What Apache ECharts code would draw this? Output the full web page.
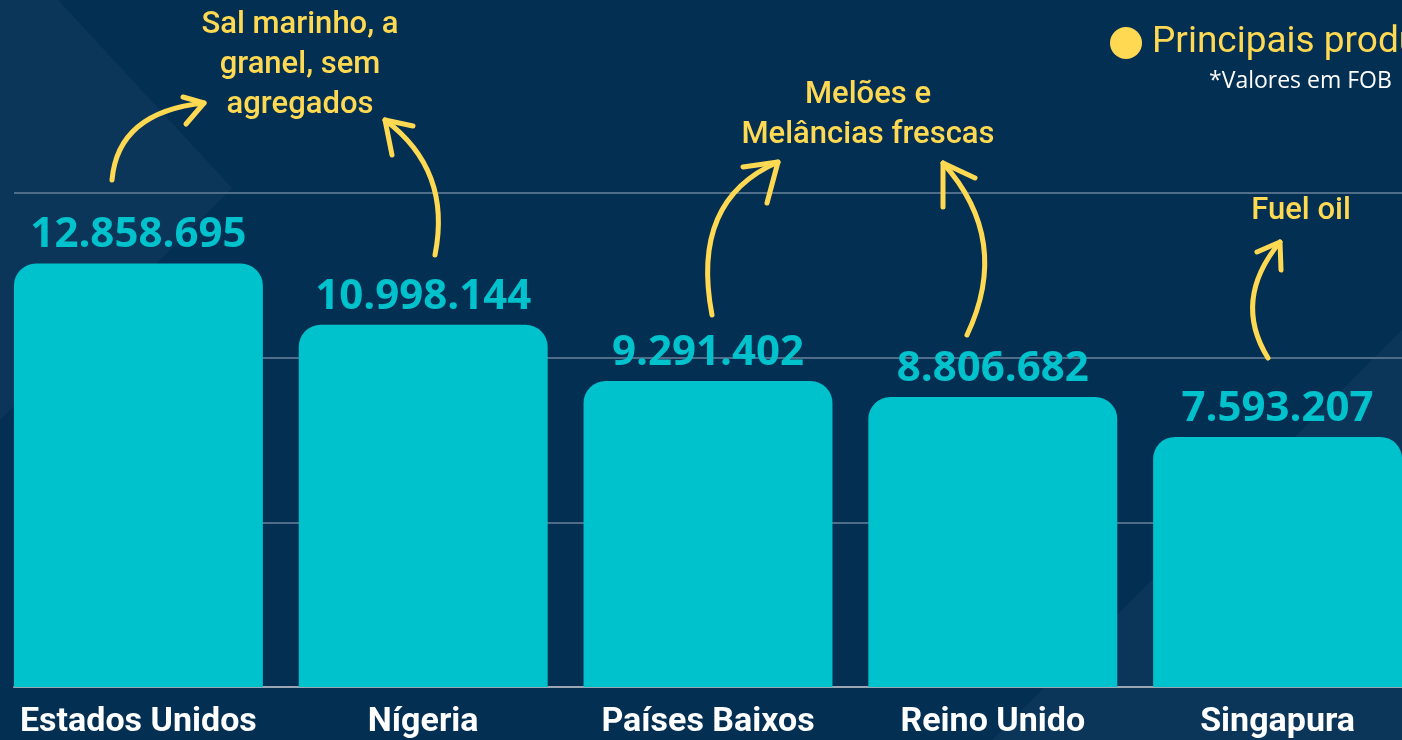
<!DOCTYPE html>
<html>
<head>
<meta charset="utf-8">
<script src="https://cdn.jsdelivr.net/npm/echarts@6/dist/echarts.min.js"></script>
<style>
  html, body { margin: 0; padding: 0; background: #032f53; }
  #chart { width: 1402px; height: 740px; }
</style>
</head>
<body>
<div id="chart"></div>
<script>
// dados
const paises = ['Estados Unidos', 'Nígeria', 'Países Baixos', 'Reino Unido', 'Singapura'];
const valoresFob = [12858695, 10998144, 9291402, 8806682, 7593207];
const produtos = ['Sal marinho, a\ngranel, sem\nagregados', 'Melões e\nMelâncias frescas', 'Fuel oil'];
const legendaTexto = 'Principais produtos';
const notaTexto = '*Valores em FOB';

const AMARELO = '#ffd952';
const TURQUESA = '#00c2cc';
const FONTE_COND = '"Roboto", sans-serif';

const chart = echarts.init(document.getElementById('chart'), null, { renderer: 'canvas' });

// formata 12858695 -> 12.858.695
function pontos(v) {
    return String(v).replace(/\B(?=(\d{3})+(?!\d))/g, '.');
}

// seta curva: curva bezier + ponta
function seta(x1, y1, cx, cy, x2, y2, b1, b2) {
    return [
        {
            type: 'bezierCurve', z: 10,
            shape: { x1: x1, y1: y1, cpx1: cx, cpy1: cy, x2: x2, y2: y2 },
            style: { stroke: AMARELO, lineWidth: 5, fill: null, lineCap: 'round' }
        },
        {
            type: 'polyline', z: 10,
            shape: { points: [b1, [x2, y2], b2] },
            style: { stroke: AMARELO, lineWidth: 5, fill: null, lineCap: 'round', lineJoin: 'round' }
        }
    ];
}

const textoAnot = (txt, x, y) => ({
    type: 'text', z: 10, x: x, y: y,
    style: {
        text: txt, fill: AMARELO, font: '500 31px ' + FONTE_COND,
        align: 'center', verticalAlign: 'top', lineHeight: 40
    }
});

const option = {
    backgroundColor: '#032f53',
    animation: false,
    grid: [
        // grade das barras um pouco mais larga que a tela
        { left: -4, width: 1424, top: 193, bottom: 53, outerBoundsMode: 'none' },
        // grade so para as linhas de fundo
        { left: 14, right: 0, top: 193, bottom: 53 }
    ],
    xAxis: [
        {
            type: 'category', gridIndex: 0, data: paises,
            axisLine: { show: false }, axisTick: { show: false },
            axisLabel: {
                interval: 0,
                color: '#ffffff', fontSize: 34, fontWeight: 'bold',
                fontFamily: FONTE_COND, margin: 18
            }
        },
        {
            type: 'category', gridIndex: 1, data: paises,
            axisLine: { lineStyle: { color: '#9aa6b4', width: 2 } },
            axisTick: { show: false }, axisLabel: { show: false }
        }
    ],
    yAxis: [
        {
            type: 'value', gridIndex: 0, min: 0, max: 15000000, interval: 5000000,
            axisLabel: { show: false }, splitLine: { show: false },
            axisLine: { show: false }, axisTick: { show: false }
        },
        {
            type: 'value', gridIndex: 1, min: 0, max: 15000000, interval: 5000000,
            axisLabel: { show: false },
            splitLine: { lineStyle: { color: '#4f6c89', width: 2 } },
            axisLine: { show: false }, axisTick: { show: false }
        }
    ],
    series: [
        {
            type: 'bar', xAxisIndex: 0, yAxisIndex: 0,
            data: valoresFob,
            barCategoryGap: '12.6%',
            itemStyle: { color: TURQUESA, borderRadius: [22, 22, 0, 0] },
            label: {
                show: true, position: 'top', distance: 7,
                color: TURQUESA, fontSize: 42, fontWeight: 'bold',
                fontFamily: '"Open Sans", sans-serif',
                formatter: p => pontos(p.value)
            }
        }
    ],
    graphic: [
        // fundo: formas mais claras
        {
            type: 'polygon', z: -5, silent: true,
            shape: { points: [[0, 0], [58, 0], [232, 188], [0, 420]] },
            style: { fill: 'rgba(255,255,255,0.035)' }
        },
        {
            type: 'polygon', z: -5, silent: true,
            shape: { points: [[1402, 330], [1402, 740], [992, 740]] },
            style: { fill: 'rgba(255,255,255,0.035)' }
        },
        // legenda
        {
            type: 'circle', z: 10,
            shape: { cx: 1126, cy: 43, r: 16 },
            style: { fill: AMARELO }
        },
        {
            type: 'text', z: 10, x: 1152, y: 43,
            style: {
                text: legendaTexto, fill: AMARELO, font: '37px ' + FONTE_COND,
                verticalAlign: 'middle'
            }
        },
        {
            type: 'text', z: 10, x: 1209, y: 81,
            style: {
                text: notaTexto, fill: '#ffffff', font: '23px "Open Sans", sans-serif',
                verticalAlign: 'middle'
            }
        },
        // anotacoes
        textoAnot(produtos[0], 300, 5),
        textoAnot(produtos[1], 868, 75),
        textoAnot(produtos[2], 1301, 191),
        ...seta(112, 180, 118, 112, 204, 103, [183, 97], [186, 124]),
        ...seta(435, 255, 452, 170, 385, 120, [413, 126], [392, 155]),
        ...seta(712, 315, 690, 200, 778, 162, [743, 167], [767, 203]),
        ...seta(967, 335, 1012, 240, 943, 163, [975, 178], [943, 207]),
        ...seta(1268, 358, 1232, 300, 1280, 242, [1257, 252], [1281, 270])
    ]
};

chart.setOption(option);
</script>
</body>
</html>
